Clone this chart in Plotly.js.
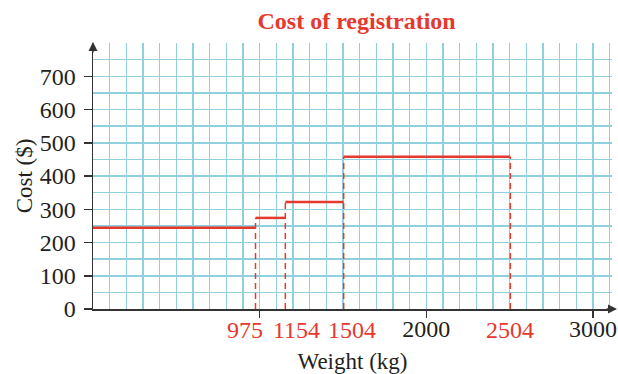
<!DOCTYPE html>
<html>
<head>
<meta charset="utf-8">
<script src="https://cdn.plot.ly/plotly-3.0.1.min.js"></script>
<style>html,body{margin:0;padding:0;background:#fff;}#chart{width:618px;height:374px;}</style>
</head>
<body>
<div id="chart"></div>
<script>
// Data
const breakpoints = [0, 975, 1154, 1504, 2504];   // weight band boundaries (kg)
const costs = [244, 274, 322, 458];               // cost for each band ($)
const redTickValues = [975, 1154, 1504, 2504];
const redTickShifts = [-11, 11, 8, 0];
const blackTickValues = [1000, 2000, 3000];
const blackTickText = ['', '2000', '3000'];
const yTickValues = [0, 100, 200, 300, 400, 500, 600, 700];

const RED = '#e5392e';
const GRID = '#8fd0dc';
const AXIS = '#333333';
const FONT = 'Liberation Serif, Times New Roman, serif';
const TS = 24;

// Horizontal solid steps
const hx = [], hy = [];
for (let i = 0; i < costs.length; i++) {
  hx.push(breakpoints[i], breakpoints[i + 1], null);
  hy.push(costs[i], costs[i], null);
}
// Vertical dashed lines
const vx = [], vy = [];
for (let i = 1; i < costs.length; i++) {
  vx.push(breakpoints[i], breakpoints[i], null);
  vy.push(0, costs[i], null);
}
vx.push(breakpoints[breakpoints.length - 1], breakpoints[breakpoints.length - 1], null);
vy.push(0, costs[costs.length - 1], null);

const traces = [
  {x: vx, y: vy, mode: 'lines', line: {color: RED, width: 1.5, dash: '6px,4px'}, hoverinfo: 'skip', showlegend: false, cliponaxis: false},
  {x: hx, y: hy, mode: 'lines', line: {color: RED, width: 2.5}, hoverinfo: 'skip', showlegend: false, cliponaxis: false}
];

const annotations = redTickValues.map((v, i) => ({
  x: v, xref: 'x', y: 0, yref: 'paper', yanchor: 'middle', xanchor: 'center',
  yshift: -21, xshift: redTickShifts[i], text: String(v), showarrow: false,
  font: {family: FONT, size: TS, color: RED}
}));
// axis arrows
annotations.push({x: 0, xref: 'x', y: 1, yref: 'paper', ax: 0, ay: 12, axref: 'pixel', ayref: 'pixel',
  showarrow: true, arrowhead: 2, arrowsize: 1.2, arrowwidth: 1.5, arrowcolor: AXIS, text: '', yshift: 1});
annotations.push({x: 1, xref: 'paper', y: 0, yref: 'y', ax: -12, ay: 0, axref: 'pixel', ayref: 'pixel',
  showarrow: true, arrowhead: 2, arrowsize: 1.2, arrowwidth: 1.5, arrowcolor: AXIS, text: '', xshift: 5});

const layout = {
  width: 618, height: 374,
  margin: {l: 93, r: 6, t: 43, b: 65},
  paper_bgcolor: '#fff', plot_bgcolor: '#fff',
  font: {family: FONT, size: TS, color: '#231f20'},
  title: {text: '<b>Cost of registration</b>', font: {family: FONT, size: 24, color: RED},
          x: 0.577, xanchor: 'center', y: 0.945, yanchor: 'middle'},
  xaxis: {
    range: [0, 3114], tickmode: 'array', tickvals: blackTickValues, ticktext: blackTickText,
    ticks: 'outside', ticklen: 7, tickwidth: 1.5, tickcolor: AXIS, ticklabelstandoff: -9,
    showgrid: true, gridcolor: GRID, gridwidth: 1.5,
    minor: {dtick: 100, tick0: 0, showgrid: true, gridcolor: GRID, gridwidth: 1.5, ticks: ''},
    showline: true, linecolor: AXIS, linewidth: 1.5, zeroline: false,
    tickfont: {family: FONT, size: TS, color: '#231f20'},
    title: {text: 'Weight (kg)', font: {family: FONT, size: 23, color: '#231f20'}, standoff: 12},
    fixedrange: true
  },
  yaxis: {
    range: [0, 800], tickmode: 'array', tickvals: yTickValues,
    ticks: 'outside', ticklen: 8, tickwidth: 1.5, tickcolor: AXIS, ticklabelstandoff: 3,
    showgrid: true, gridcolor: GRID, gridwidth: 1.5,
    minor: {dtick: 50, tick0: 0, showgrid: true, gridcolor: GRID, gridwidth: 1.5, ticks: ''},
    showline: true, linecolor: AXIS, linewidth: 1.5, zeroline: false,
    tickfont: {family: FONT, size: TS, color: '#231f20'},
    title: {text: 'Cost ($)', font: {family: FONT, size: 23, color: '#231f20'}, standoff: 0},
    fixedrange: true
  },
  annotations: annotations
};

Plotly.newPlot('chart', traces, layout, {staticPlot: true, displayModeBar: false});
</script>
</body>
</html>
